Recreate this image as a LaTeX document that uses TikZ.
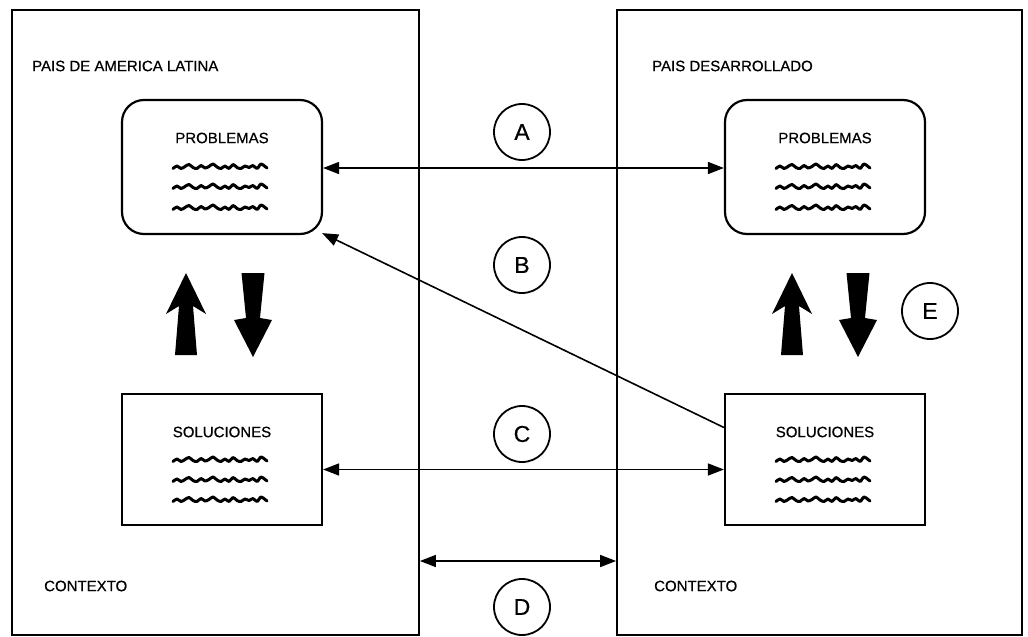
\documentclass[tikz,border=0pt]{standalone}
\usepackage{fontspec}
\setmainfont{Liberation Sans}
\newfontfamily\labfont{Liberation Sans}[FakeBold=0.6]
\usetikzlibrary{arrows.meta}
\tikzset{
  frame/.style={draw, line width=1.8pt, inner sep=0, minimum height=625pt},
  probbox/.style={draw, line width=2.2pt, rounded corners=22pt, inner sep=0, minimum width=200pt, minimum height=134pt},
  solbox/.style={draw, line width=2.2pt, inner sep=0, minimum width=200pt, minimum height=131pt},
  lab/.style={font=\labfont\fontsize{15}{17}\selectfont, inner sep=0},
  circ/.style={draw, circle, line width=1.8pt, minimum size=56pt, inner sep=0, font=\labfont\fontsize{23}{25}\selectfont},
  conn/.style={line width=1.6pt, {Triangle[length=16pt,width=12pt]}-{Triangle[length=16pt,width=12pt]}},
  oneway/.style={line width=1.6pt, -{Triangle[length=16pt,width=12pt]}},
  squig/.pic={\draw[line width=3pt, line cap=round, line join=round] plot[smooth, tension=0.6] coordinates {(-47,1.5) (-43,-1) (-39,1.5) (-35,-0.5) (-31,-2.5) (-27,0.5) (-23,1.5) (-19,-1.5) (-15,1) (-11,-0.5) (-7,-3) (-3,0) (1,1.5) (5,-1) (9,1.5) (13,-2.5) (17,0.5) (21,1.5) (25,-1) (29,0.5) (33,-1.5) (37,1.5) (41,-3) (45,-0.5) (47,1)};},
  uparrow/.pic={\fill (0,0) -- (20,41) -- (7,33) -- (11,82) -- (-11,82) -- (-7,33) -- (-20,41) -- cycle;},
  downarrow/.pic={\fill (-11.5,0) -- (11.5,0) -- (7,45) -- (19,47) -- (0,84) -- (-19,47) -- (-7,45) -- cycle;}
}
\begin{document}
\begin{tikzpicture}[x=1pt,y=-1pt]
\useasboundingbox (0,0) rectangle (1028,637);
% frames
\node[frame, minimum width=407pt] (L) at (215.5,322.5) {};
\node[frame, minimum width=405pt] (R) at (819.5,322.5) {};
\node[lab, anchor=west] (tL) at (32,66) {PAIS DE AMERICA LATINA};
\node[lab, anchor=west] (tR) at (652,66) {PAIS DESARROLLADO};
\node[lab, anchor=west] (cL) at (44,586) {CONTEXTO};
\node[lab, anchor=west] (cR) at (654,586) {CONTEXTO};
% boxes
\node[probbox] (PL) at (222,167) {};
\node[probbox] (PR) at (825,167) {};
\node[solbox] (SL) at (222,459.5) {};
\node[solbox] (SR) at (825,459.5) {};
\foreach \b/\t/\y in {PL/PROBLEMAS/138, PR/PROBLEMAS/138, SL/SOLUCIONES/432, SR/SOLUCIONES/432}{
  \node[lab] (\b-t) at (\b |- 0,\y) {\t};
}
\foreach \cx in {220,823}{
  \foreach \sy in {167,187,208}{ \pic at (\cx,\sy) {squig}; }
  \foreach \sy in {460,480,500}{ \pic at (\cx,\sy) {squig}; }
}
% fat arrows
\pic at (186,273) {uparrow};
\pic at (253,273) {downarrow};
\pic at (792,273) {uparrow};
\pic at (858,273) {downarrow};
% circles
\node[circ] (A) at (522,132) {A};
\node[circ] (B) at (522,265) {B};
\node[circ] (C) at (522,434) {C};
\node[circ] (D) at (522,607) {D};
\node[circ] (E) at (930,311) {E};
% connectors
\draw[conn] ([yshift=-1pt]PL.east) -- ([yshift=-1pt]PR.west);
\draw[conn] ([yshift=-10pt]SL.east) -- ([yshift=-10pt]SR.west);
\draw[oneway] ([yshift=32pt]SR.west) -- ([xshift=-1pt,yshift=2pt]PL.south east);
\coordinate (d1) at (L.east |- 0,561);
\coordinate (d2) at (R.west |- 0,561);
\draw[conn] (d1) -- (d2);
\end{tikzpicture}
\end{document}
